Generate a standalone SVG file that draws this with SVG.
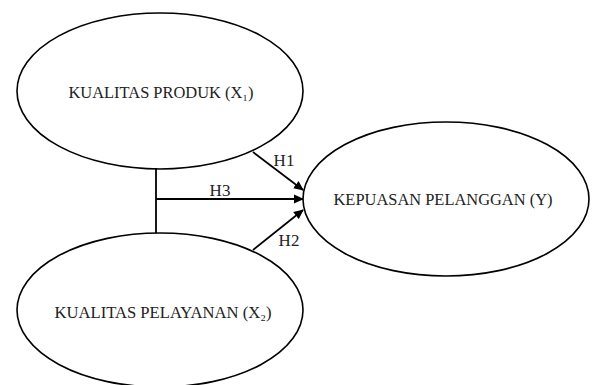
<svg xmlns="http://www.w3.org/2000/svg" width="598" height="385" viewBox="0 0 598 385">
<style>
.node ellipse{fill:#fff;stroke:#000;stroke-width:1.6}
.t{font-family:"Liberation Serif","DejaVu Serif",serif;font-size:17.5px;fill:#222;text-anchor:middle}
.lbl{font-family:"Liberation Serif","DejaVu Serif",serif;font-size:17px;fill:#222;text-anchor:middle}
.c{stroke:#000;stroke-width:1.8;fill:none}
</style>
<defs>
<marker id="ah" viewBox="0 0 10 10" refX="9" refY="5" markerWidth="10" markerHeight="10" markerUnits="userSpaceOnUse" orient="auto">
<path d="M0,0.5 L10,5 L0,9.5 Z" fill="#000"/>
</marker>
</defs>
<rect width="598" height="385" fill="#fff"/>
<g id="x1" class="node">
<ellipse cx="160" cy="91" rx="143" ry="78"/>
<text class="t" x="161" y="98" textLength="185" lengthAdjust="spacingAndGlyphs">KUALITAS PRODUK (X₁)</text>
</g>
<g id="x2" class="node">
<ellipse cx="160" cy="310" rx="143" ry="77"/>
<text class="t" x="163" y="318" textLength="217" lengthAdjust="spacingAndGlyphs">KUALITAS PELAYANAN (X₂)</text>
</g>
<g id="y" class="node">
<ellipse cx="446" cy="199" rx="143" ry="77"/>
<text class="t" x="443" y="205" textLength="219" lengthAdjust="spacingAndGlyphs">KEPUASAN PELANGGAN (Y)</text>
</g>
<g id="connectors">
<line class="c" x1="156" y1="168" x2="156" y2="233"/>
<line class="c" x1="156" y1="199" x2="303" y2="199" marker-end="url(#ah)"/>
<line class="c" x1="253" y1="152" x2="303" y2="190" marker-end="url(#ah)"/>
<line class="c" x1="253" y1="250" x2="303" y2="210" marker-end="url(#ah)"/>
<text class="lbl" x="284" y="166">H1</text>
<text class="lbl" x="220" y="196">H3</text>
<text class="lbl" x="289" y="246">H2</text>
</g>
</svg>
